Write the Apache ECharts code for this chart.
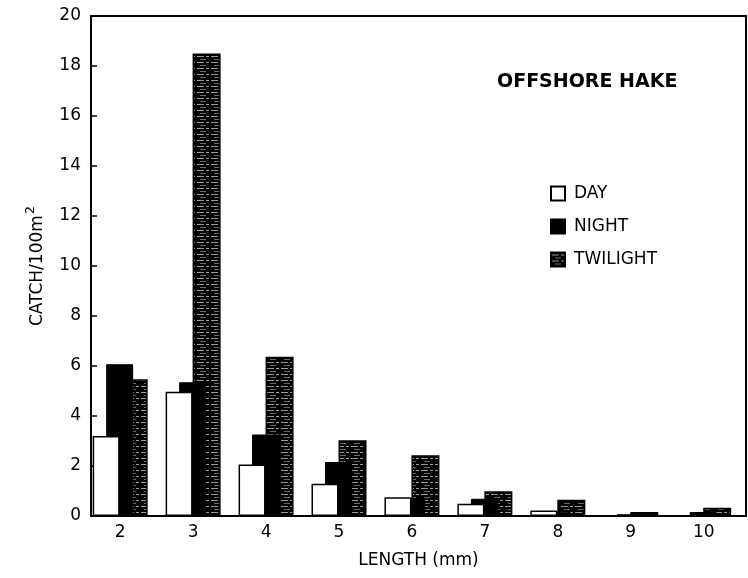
<!DOCTYPE html>
<html><head><meta charset="utf-8">
<script src="https://cdn.jsdelivr.net/npm/echarts@6/dist/echarts.min.js"></script>
<style>html,body{margin:0;padding:0;background:#fff}#c{width:748px;height:578px}</style>
</head><body><div id="c"></div>
<script>
var lengths = [2, 3, 4, 5, 6, 7, 8, 9, 10];
var day = [3.2, 4.97, 2.06, 1.29, 0.75, 0.49, 0.22, 0.02, 0.03];
var night = [6.07, 5.35, 3.26, 2.16, 0.72, 0.69, 0.15, 0.07, 0.16];
var twilight = [5.47, 18.5, 6.37, 3.03, 2.43, 0.99, 0.65, 0.16, 0.33];

function pairs(v){ return lengths.map(function(x,i){ return [x, v[i]]; }); }

var cv = document.createElement('canvas');
cv.width = 14; cv.height = 6;
var g = cv.getContext('2d');
g.fillStyle = '#000'; g.fillRect(0,0,14,6);
g.fillStyle = '#9a9a9a'; g.fillRect(1,2,7,1); g.fillRect(10,2,3,1);
g.fillStyle = '#6a6a6a'; g.fillRect(4,5,6,1);

var font = 'DejaVu Sans';
var chart = echarts.init(document.getElementById('c'));
chart.setOption({
  animation: false,
  backgroundColor: '#fff',
  textStyle: {fontFamily: font, color: '#000'},
  title: {
    text: 'OFFSHORE HAKE', left: 492, top: 68,
    textStyle: {fontFamily: font, fontSize: 19, fontWeight: 'bold', color: '#000'}
  },
  legend: {
    orient: 'vertical', left: 545, top: 180, itemGap: 16,
    itemWidth: 14, itemHeight: 14, icon: 'rect',
    data: ['DAY', 'NIGHT', 'TWILIGHT'],
    textStyle: {fontFamily: font, fontSize: 17, color: '#000', padding: [0,0,0,4]}
  },
  grid: {left: 91, right: 2, top: 16, bottom: 62, show: true, borderColor: '#000', borderWidth: 2, backgroundColor: 'transparent'},
  xAxis: {
    type: 'value', min: 1.6, max: 10.58,
    name: 'LENGTH (mm)', nameLocation: 'middle', nameGap: 36,
    nameTextStyle: {fontFamily: font, fontSize: 17, color: '#000'},
    axisLine: {show: true, lineStyle: {color: '#000', width: 2}},
    axisTick: {show: false},
    splitLine: {show: false},
    axisLabel: {customValues: lengths, fontSize: 17, color: '#000', margin: 8, fontFamily: font}
  },
  yAxis: {
    type: 'value', min: 0, max: 20, interval: 2,
    name: '{a|CATCH/100m}{b|2}', nameLocation: 'middle', nameGap: 40,
    nameTextStyle: {
      rich: {
        a: {fontFamily: font, fontSize: 17, color: '#000'},
        b: {fontFamily: font, fontSize: 13, color: '#000', verticalAlign: 'bottom', padding: [0,0,14,1]}
      }
    },
    axisLine: {show: true, lineStyle: {color: '#000', width: 2}},
    axisTick: {show: true, inside: true, length: 6, lineStyle: {color: '#000', width: 1.5}},
    splitLine: {show: false},
    axisLabel: {fontSize: 17, color: '#000', margin: 10, fontFamily: font}
  },
  series: [
    {name: 'DAY', type: 'bar', z: 5, data: pairs(day), barWidth: 27, barGap: '-50%',
     itemStyle: {color: '#fff', borderColor: '#000', borderWidth: 1.5}},
    {name: 'NIGHT', type: 'bar', z: 4, data: pairs(night), barWidth: 27, barGap: '-50%',
     itemStyle: {color: '#000', borderColor: '#000', borderWidth: 1}},
    {name: 'TWILIGHT', type: 'bar', z: 3, data: pairs(twilight), barWidth: 28, barGap: '-50%',
     itemStyle: {color: {image: cv, repeat: 'repeat'}, borderColor: '#000', borderWidth: 1.5}}
  ]
});
</script></body></html>
